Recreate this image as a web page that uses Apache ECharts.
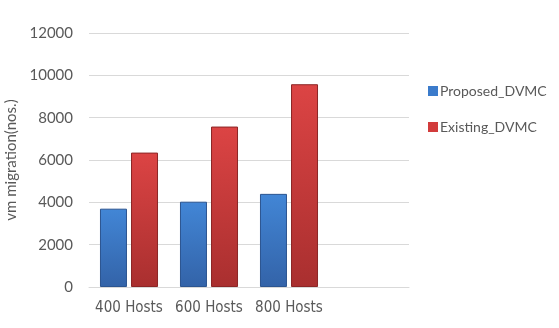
<!DOCTYPE html>
<html>
<head>
<meta charset="utf-8">
<script src="https://cdn.jsdelivr.net/npm/echarts@6/dist/echarts.min.js"></script>
<style>html,body{margin:0;padding:0;background:#fff}#c{width:559px;height:328px}</style>
</head>
<body>
<div id="c"></div>
<script>
var categories = ['400 Hosts', '600 Hosts', '800 Hosts', ''];
var proposed = [3700, 4030, 4400];
var existing = [6350, 7580, 9580];
var seriesNames = ['Proposed_DVMC', 'Existing_DVMC'];
var yTicks = {min: 0, max: 12000, interval: 2000};

var chart = echarts.init(document.getElementById('c'));
function grad(top, bottom) {
  return new echarts.graphic.LinearGradient(0, 0, 0, 1, [
    {offset: 0, color: top}, {offset: 1, color: bottom}
  ]);
}
chart.setOption({
  animation: false,
  grid: {left: 89, right: 150, top: 33, bottom: 41, outerBoundsMode: 'none', containLabel: false},
  legend: {
    orient: 'vertical', left: 423, top: 79,
    itemWidth: 10, itemHeight: 10, itemGap: 22,
    textStyle: {fontFamily: 'Lato', fontSize: 14, color: '#595959', padding: [0, 0, 0, -3]},
    data: seriesNames.map(function (n, i) {
      return {name: n, icon: 'rect', itemStyle: {color: i === 0 ? '#3b7bcb' : '#d23c3c', borderWidth: 0}};
    })
  },
  xAxis: {
    type: 'category', data: categories,
    axisLine: {lineStyle: {color: '#d9d9d9'}},
    axisTick: {show: false},
    axisLabel: {interval: 0, fontFamily: "'Liberation Sans Narrow', 'DejaVu Sans Condensed', Lato", fontSize: 15, color: '#595959', margin: 14}
  },
  yAxis: {
    type: 'value', min: yTicks.min, max: yTicks.max, interval: yTicks.interval,
    name: 'vm migration(nos.)', nameLocation: 'middle', nameGap: 60,
    nameTextStyle: {fontFamily: 'Lato', fontSize: 15, color: '#595959'},
    axisLine: {show: false}, axisTick: {show: false},
    axisLabel: {fontFamily: 'Lato', fontSize: 15, color: '#595959', margin: 16,
      formatter: function (v) { return String(v); }},
    splitLine: {lineStyle: {color: '#d9d9d9'}}
  },
  series: [
    {name: seriesNames[0], type: 'bar', data: proposed, barWidth: 27, barGap: '15%',
     itemStyle: {color: grad('#4286d6', '#3363a8'), borderColor: '#2c5590', borderWidth: 1}},
    {name: seriesNames[1], type: 'bar', data: existing, barWidth: 27, barGap: '15%',
     itemStyle: {color: grad('#dc4444', '#a92f2f'), borderColor: '#8c2626', borderWidth: 1}}
  ]
});
</script>
</body>
</html>
